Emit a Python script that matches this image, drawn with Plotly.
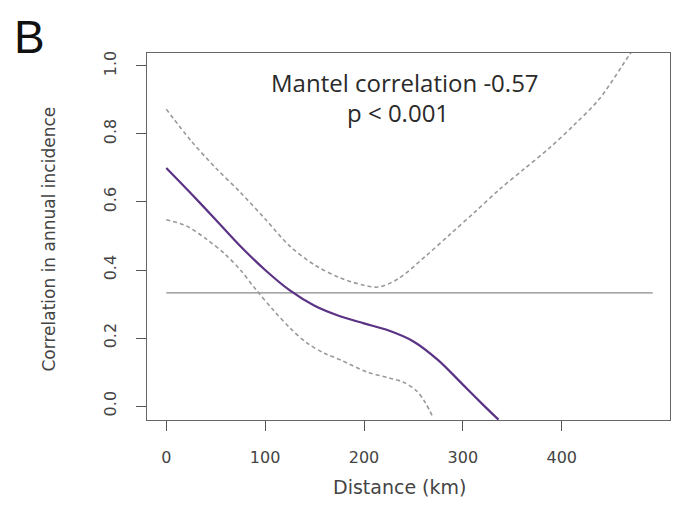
import plotly.graph_objects as go

# Data
dist_fit = [0, 25, 50, 75, 100, 125, 150, 175, 200, 225, 250, 275, 300, 320, 336]
corr_fit = [0.70, 0.625, 0.548, 0.47, 0.40, 0.34, 0.295, 0.265, 0.243, 0.222, 0.19, 0.135, 0.063, 0.005, -0.04]

dist_upper = [0, 25, 50, 75, 100, 125, 150, 175, 200, 215, 235, 262, 287, 312, 337, 362, 388, 413, 438, 469, 480]
corr_upper = [0.873, 0.78, 0.70, 0.628, 0.55, 0.47, 0.415, 0.378, 0.355, 0.35, 0.375, 0.44, 0.505, 0.57, 0.637, 0.697, 0.76, 0.828, 0.903, 1.035, 1.08]

dist_lower = [0, 20, 41, 60, 75, 90, 108, 125, 142, 160, 176, 203, 225, 240, 253, 262, 270]
corr_lower = [0.548, 0.53, 0.49, 0.445, 0.40, 0.345, 0.283, 0.23, 0.186, 0.155, 0.136, 0.10, 0.083, 0.07, 0.045, 0.01, -0.035]

ref_x = [0, 492]
ref_y = [0.333, 0.333]

x_ticks = [0, 100, 200, 300, 400]
y_ticks = [0.0, 0.2, 0.4, 0.6, 0.8, 1.0]
y_tick_text = ["0.0", "0.2", "0.4", "0.6", "0.8", "1.0"]

fig = go.Figure()
fig.add_trace(go.Scatter(x=ref_x, y=ref_y, mode="lines",
                         line=dict(color="#8a8a8a", width=1.2), showlegend=False))
fig.add_trace(go.Scatter(x=dist_upper, y=corr_upper, mode="lines", line_shape="spline",
                         line=dict(color="#999999", width=1.6, dash="4px,3px", smoothing=0.9),
                         showlegend=False))
fig.add_trace(go.Scatter(x=dist_lower, y=corr_lower, mode="lines", line_shape="spline",
                         line=dict(color="#999999", width=1.6, dash="4px,3px", smoothing=0.9),
                         showlegend=False))
fig.add_trace(go.Scatter(x=dist_fit, y=corr_fit, mode="lines", line_shape="spline",
                         line=dict(color="#5a3385", width=2.2, smoothing=0.9), showlegend=False))

tick_font = dict(family="DejaVu Sans", size=16, color="#444444")

fig.update_layout(
    width=673, height=514,
    margin=dict(l=147, r=3, t=53, b=94),
    paper_bgcolor="white", plot_bgcolor="white",
    xaxis=dict(range=[-19.5, 509.5], tickvals=x_ticks, ticks="outside", ticklen=10,
               tickcolor="#555555", tickwidth=1.2, showline=True, mirror=True,
               linecolor="#666666", linewidth=1.2, showgrid=False, zeroline=False,
               tickfont=tick_font, ticklabelstandoff=13),
    yaxis=dict(range=[-0.041, 1.038], tickvals=y_ticks, ticktext=y_tick_text,
               ticks="outside", ticklen=10, tickangle=-90,
               tickcolor="#555555", tickwidth=1.2, showline=True, mirror=True,
               linecolor="#666666", linewidth=1.2, showgrid=False, zeroline=False,
               tickfont=tick_font, ticklabelstandoff=14),
    annotations=[
        dict(text="Mantel correlation -0.57", x=241, y=0.952, xref="x", yref="y",
             showarrow=False, font=dict(family="Open Sans", size=24, color="#2a2a2a")),
        dict(text="p < 0.001", x=234, y=0.862, xref="x", yref="y",
             showarrow=False, font=dict(family="Open Sans", size=24, color="#2a2a2a")),
        dict(text="B", x=0, y=1, xref="paper", yref="paper", xanchor="left", yanchor="top",
             xshift=-135, yshift=44, showarrow=False,
             font=dict(family="Liberation Sans", size=46, color="#111111")),
        dict(text="Distance (km)", x=0.482, y=0, xref="paper", yref="paper",
             xanchor="center", yanchor="middle", yshift=-67, showarrow=False,
             font=dict(family="DejaVu Sans", size=19, color="#444444")),
        dict(text="Correlation in annual incidence", x=0, y=0.5, xref="paper", yref="paper",
             xanchor="center", yanchor="middle", xshift=-99, yshift=-3, textangle=-90,
             showarrow=False, font=dict(family="DejaVu Sans", size=17, color="#444444")),
    ],
)

fig.write_html("out.html")
